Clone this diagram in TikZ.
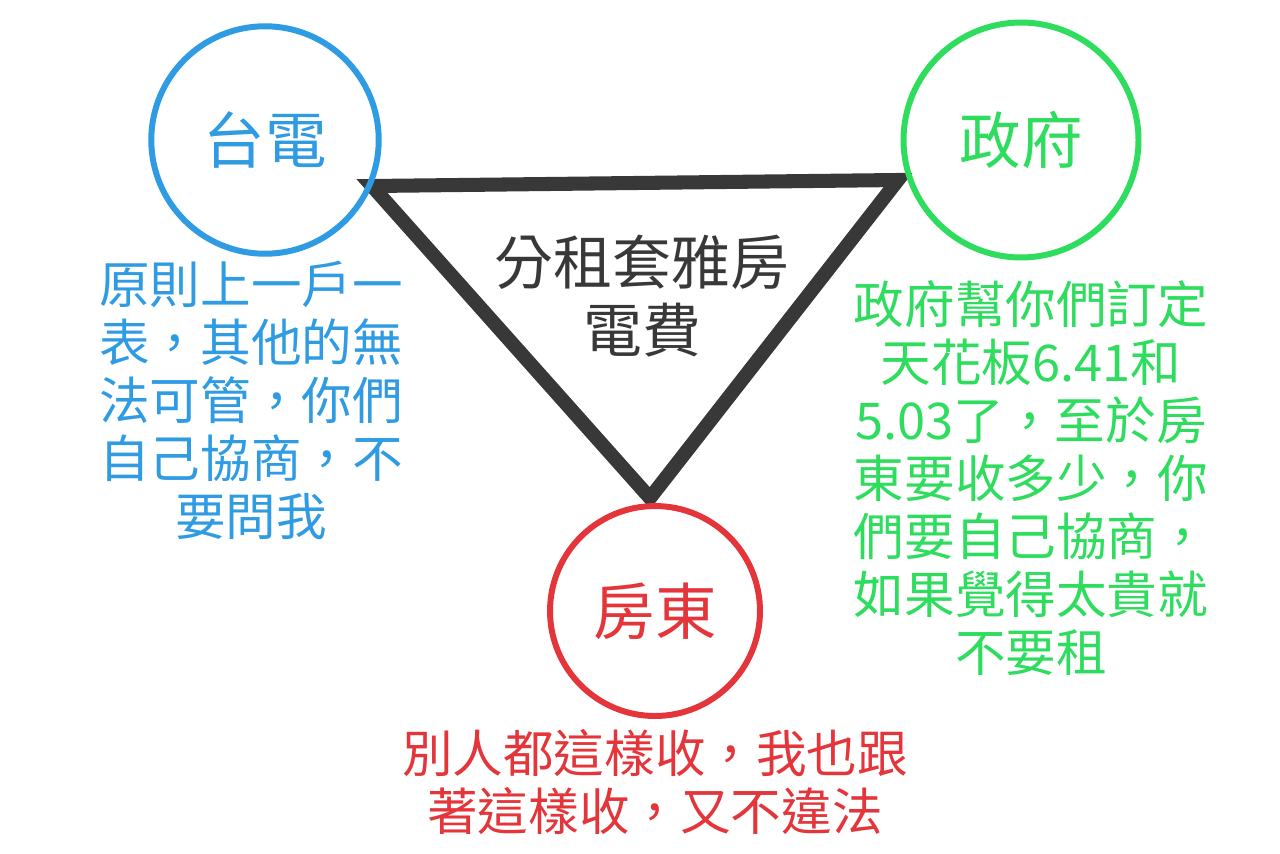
\documentclass[tikz,border=0pt]{standalone}
\usepackage{fontspec}
\setmainfont{Noto Sans CJK TC}
\definecolor{powerblue}{HTML}{2F9BE3}
\definecolor{govgreen}{HTML}{2EDC5E}
\definecolor{ownerred}{HTML}{E4363A}
\definecolor{triangray}{HTML}{383838}
\tikzset{
  party/.style={circle, draw=#1, text=#1, line width=3.4pt, minimum size=4.6cm,
                inner sep=0pt, font=\fontsize{35}{40}\selectfont},
  speech/.style={text=#1, align=center, inner sep=0pt,
                 font=\fontsize{28.8}{33}\selectfont}
}

\begin{document}
\begin{tikzpicture}[x=0.02cm,y=-0.02cm]
   \useasboundingbox (0,0) rectangle (1280,853);
   % the triangle
   \coordinate (tl) at (372,186);
   \coordinate (tr) at (898,180);
   \coordinate (bm) at (650,498);
   \draw[triangray, line width=8pt, line join=miter] (tl) -- (tr) -- (bm) -- cycle;
   \node[speech=triangray, font=\fontsize{33.5}{39}\selectfont] (topic) at (642,296) {分租套雅房\\電費};
   % the three parties
   \node[party=powerblue, minimum size=4.55cm] (taipower) at (265,140) {台電};
   \node[party=govgreen,  minimum size=4.7cm]  (gov)      at (1021,140) {政府};
   \node[party=ownerred,  minimum size=4.2cm]  (owner)    at (655,611) {房東};
   % what each one says
   \node[speech=powerblue] (taipowersays) at (251,400)
      {原則上一戶一\\表，其他的無\\法可管，你們\\自己協商，不\\要問我};
   \node[speech=govgreen] (govsays) at (1031,478)
      {政府幫你們訂定\\天花板6.41和\\5.03了，至於房\\東要收多少，你\\們要自己協商，\\如果覺得太貴就\\不要租};
   \node[speech=ownerred] (ownersays) at (655,782)
      {別人都這樣收，我也跟\\著這樣收，又不違法};
\end{tikzpicture}
\end{document}
